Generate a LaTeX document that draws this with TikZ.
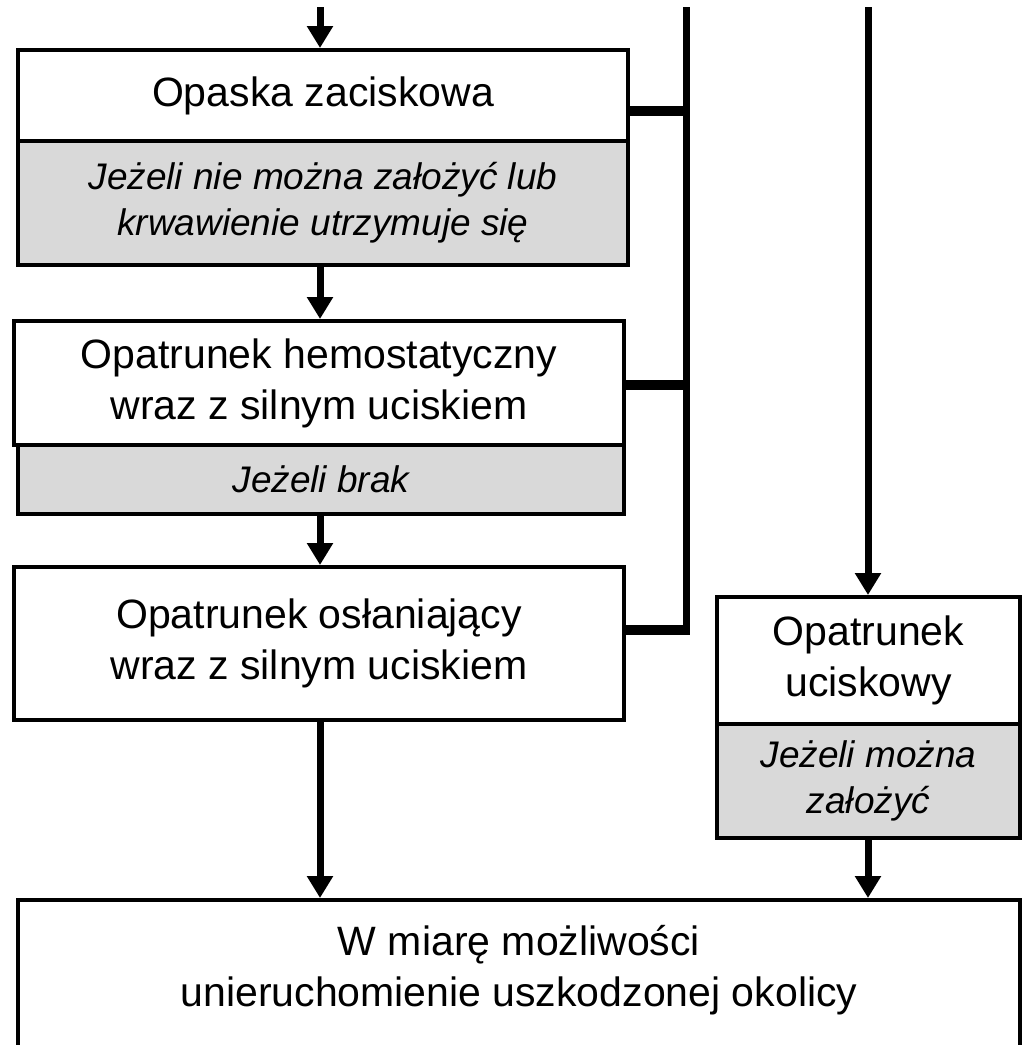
\documentclass[tikz,border=0pt]{standalone}
\usepackage{fontspec}
\setmainfont{Liberation Sans}
\usetikzlibrary{arrows.meta}
\begin{document}
\begin{tikzpicture}[x=1pt,y=-1pt,
  box/.style={draw, line width=4pt, inner sep=0pt, align=center, anchor=center, font=\fontsize{41}{51}\selectfont},
  gbox/.style={box, fill=black!15, font=\fontsize{37}{46}\selectfont\itshape},
  lbl/.style={inner sep=0pt, align=center, font=\fontsize{41}{51}\selectfont},
  arr/.style={line width=7pt, -{Triangle[width=25pt,length=22pt]}},
  bus/.style={line width=7pt},
  tick/.style={line width=10pt}]
\useasboundingbox (0,0) rectangle (1022,1045);
\clip (0,0) rectangle (1022,1045);
% boxes
\node[box, minimum width=610pt, minimum height=91pt] (b1) at (323,95.5) {Opaska zaciskowa};
\node[gbox, minimum width=610pt, minimum height=124pt] (b1g) at (323,203) {Jeżeli nie można założyć lub\\krwawienie utrzymuje się};
\node[box, minimum width=610pt, minimum height=124pt] (b2) at (319,383) {Opatrunek hemostatyczny\\wraz z silnym uciskiem};
\node[gbox, minimum width=606pt, minimum height=69pt] (b2g) at (321,479.5) {Jeżeli brak};
\node[box, minimum width=610pt, minimum height=153pt] (b3) at (319,643.5) {Opatrunek osłaniający\\wraz z silnym uciskiem};
\node[box, minimum width=303pt, minimum height=127pt] (b4) at (868.5,660.5) {Opatrunek\\uciskowy};
\node[gbox, minimum width=303pt, minimum height=114pt] (b4g) at (868.5,781) {Jeżeli można\\założyć};
\node[box, minimum width=1002pt, minimum height=200pt] (b5) at (519,1000) {};
\node[lbl] (b5t) at (519,970) {W miarę możliwości\\unieruchomienie uszkodzonej okolicy};
% coordinates
\coordinate (in1) at (320,7);
\coordinate (in2) at (868,7);
\coordinate (vtop) at (686,7);
\coordinate (vbot) at (686,635);
\coordinate (t1) at (686,111);
\coordinate (t2) at (686,385);
\coordinate (t3) at (686,630);
% arrows
\draw[arr] (in1) -- (in1 |- b1.north);
\draw[arr] (b1g.south -| in1) -- (b2.north -| in1);
\draw[arr] (b2g.south -| in1) -- (b3.north -| in1);
\draw[arr] (b3.south -| in1) -- (b5.north -| in1);
\draw[arr] (in2) -- (in2 |- b4.north);
\draw[arr] (b4g.south -| in2) -- (b5.north -| in2);
% bus
\draw[bus] (vtop) -- (vbot);
\draw[tick] (b1.east |- t1) -- ([xshift=3.5pt]t1);
\draw[tick] (b2.east |- t2) -- ([xshift=3.5pt]t2);
\draw[tick] (b3.east |- t3) -- ([xshift=3.5pt]t3);
\end{tikzpicture}
\end{document}
